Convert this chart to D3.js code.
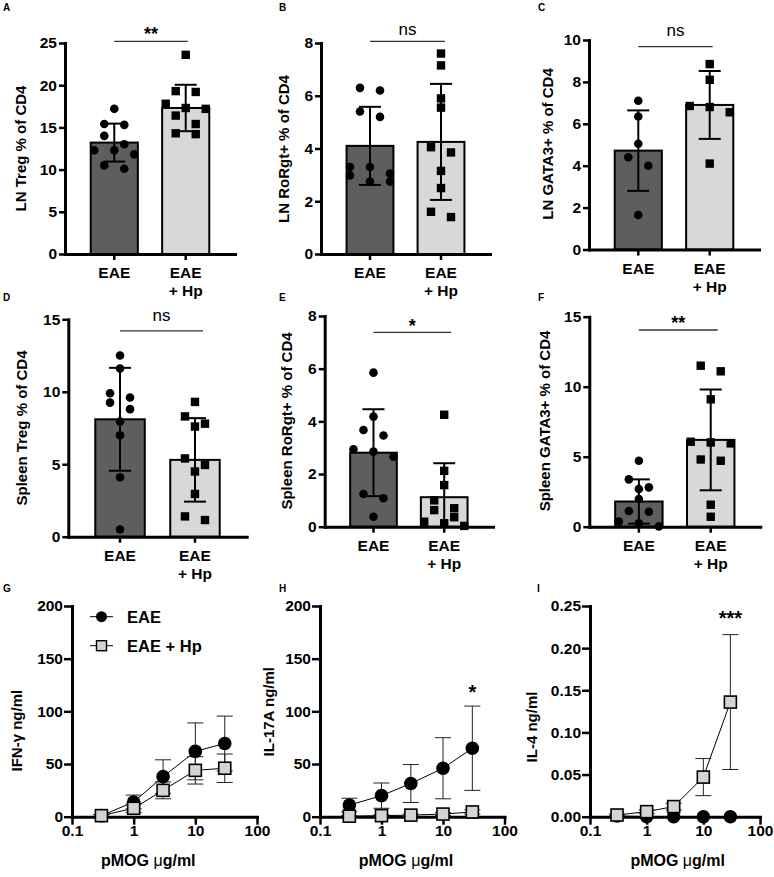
<!DOCTYPE html>
<html><head><meta charset="utf-8">
<script src="https://cdn.jsdelivr.net/npm/d3@7"></script>
<style>
body{margin:0;background:#fff;}
svg{display:block;}
</style></head><body>
<svg id="fig" width="774" height="877"></svg>
<script>
// ---------------- DATA ----------------
const groups = ["EAE", "EAE + Hp"];

// A: LN Treg
const lnTregEAE = [17.2, 15.4, 15.3, 14.0, 13.0, 12.3, 12.3, 11.8, 10.5, 10.1];
const lnTregHp  = [23.6, 19.3, 19.2, 17.8, 17.3, 17.2, 16.4, 15.4, 14.3, 14.2];
const lnTregMean = [13.2, 17.3];
const lnTregSD   = [2.25, 2.75];
// B: LN RoRgt+
const lnRorEAE = [6.3, 6.2, 5.4, 5.2, 3.3, 3.3, 3.05, 2.98, 2.75, 2.75];
const lnRorHp  = [7.6, 7.15, 5.9, 5.55, 4.05, 3.85, 3.15, 2.5, 1.6, 1.4];
const lnRorMean = [4.1, 4.25];
const lnRorSD   = [1.48, 2.2];
// C: LN GATA3+
const lnGataEAE = [7.1, 6.35, 5.05, 4.4, 4.0, 1.65];
const lnGataHp  = [8.85, 8.1, 6.85, 6.8, 6.55, 4.1];
const lnGataMean = [4.72, 6.9];
const lnGataSD   = [1.92, 1.62];
// D: Spleen Treg
const spTregEAE = [12.5, 11.6, 9.9, 9.6, 9.25, 8.8, 7.95, 7.0, 4.1, 0.5];
const spTregHp  = [9.3, 8.3, 7.8, 7.6, 5.4, 4.95, 4.5, 2.95, 1.4, 1.15];
const spTregMean = [8.1, 5.3];
const spTregSD   = [3.55, 2.88];
// E: Spleen RoRgt+
const spRorEAE = [5.85, 4.18, 3.67, 3.46, 2.94, 2.85, 2.66, 1.24, 1.08, 0.38];
const spRorHp  = [4.25, 2.12, 1.58, 1.0, 0.7, 0.63, 0.36, 0.19, 0.13, 0.03];
const spRorMean = [2.81, 1.12];
const spRorSD   = [1.65, 1.29];
// F: Spleen GATA3+
const spGataEAE = [4.71, 3.38, 2.81, 2.69, 1.98, 1.12, 1.07, 0.36, 0.24, 0.02];
const spGataHp  = [11.5, 11.1, 9.1, 6.07, 6.02, 5.95, 4.8, 4.71, 1.57, 0.71];
const spGataMean = [1.8, 6.2];
const spGataSD   = [1.58, 3.6];

const sigLabels = ["**", "ns", "ns", "ns", "*", "**"];

// G-I: cytokines vs pMOG dose
const doses = [0.3, 1, 3, 10, 30];
const doseTicks = [0.1, 1, 10, 100];
const ifngEAE = [1, 14, 38, 62, 69.5];
const ifngEAEsd = [1, 6.5, 16, 27, 26];
const ifngHp = [1, 8, 25, 44, 46];
const ifngHpSd = [1, 4, 8, 13, 13.5];
const il17EAE = [11, 20, 31.5, 46, 65];
const il17EAEsd = [6.5, 12, 18, 29, 40];
const il17Hp = [0.5, 1, 1.5, 2.5, 4.5];
const il17HpSd = [0.5, 0.8, 1, 1.5, 2];
const il4EAE = [0.001, 0, 0, 0, 0];
const il4EAEsd = [0, 0, 0, 0, 0];
const il4Hp = [0.002, 0.006, 0.012, 0.047, 0.136];
const il4HpSd = [0.001, 0.002, 0.004, 0.022, 0.08];
const ifngTicks = [0, 50, 100, 150, 200];
const il17Ticks = [0, 50, 100, 150, 200];
const il4Ticks = [0, 0.05, 0.10, 0.15, 0.20, 0.25];

// ---------------- DRAWING ----------------
const FONT = '"Liberation Sans", Arial, Helvetica, sans-serif';
const svg = d3.select("#fig");
const barFill = ["#5e5e5e", "#d8d8d8"];
const markerFill = "#d4d4d4";

function styleAxis(g, fs) {
  g.select(".domain").attr("stroke", "#000").attr("stroke-width", 3).attr("stroke-linecap", "square");
  g.selectAll(".tick line").attr("stroke", "#000").attr("stroke-width", 2.5);
  g.selectAll(".tick text").attr("font-family", FONT).attr("font-weight", "bold")
    .attr("font-size", fs || 15.5).attr("fill", "#000");
}

function swarm(values, y, spacing, thresh, maxPerRow) {
  const pts = values.map(v => ({ v, y: y(v) })).sort((a, b) => a.y - b.y);
  const rows = [];
  let cur = null;
  for (const p of pts) {
    if (cur && p.y - cur[0].y < thresh && cur.length < maxPerRow) cur.push(p);
    else { cur = [p]; rows.push(cur); }
  }
  rows.forEach(r => r.forEach((p, i) => p.dx = (i - (r.length - 1) / 2) * spacing));
  return pts;
}

function letter(t, x, y) {
  svg.append("text").attr("x", x).attr("y", y).text(t)
    .attr("font-family", FONT).attr("font-weight", "bold").attr("font-size", 10);
}

function rotTitle(t, x, y) {
  svg.append("text").attr("transform", `translate(${x},${y}) rotate(-90)`)
    .attr("text-anchor", "middle").attr("dominant-baseline", "central")
    .attr("font-family", FONT).attr("font-weight", "bold").attr("font-size", 15).text(t);
}

function drawBarPanel(p) {
  const g = svg.append("g");
  const y = d3.scaleLinear().domain([0, p.yMax]).range([p.y0, p.yTop]);
  const x = d3.scaleBand().domain(groups).range([p.axisX, p.xEnd]).paddingInner(0.34).paddingOuter(0.36);
  const bw = x.bandwidth();

  g.selectAll("rect.bar").data(groups).join("rect").attr("class", "bar")
    .attr("x", d => x(d)).attr("width", bw)
    .attr("y", (d, i) => y(p.means[i])).attr("height", (d, i) => p.y0 - y(p.means[i]))
    .attr("fill", (d, i) => barFill[i]).attr("stroke", "#000").attr("stroke-width", 2);

  groups.forEach((grp, i) => {
    const cx = x(grp) + bw / 2;
    const pts = swarm(p.points[i], y, 20, 8.5, 3);
    if (i === 0) {
      g.selectAll(null).data(pts).join("circle")
        .attr("cx", d => cx + d.dx).attr("cy", d => d.y).attr("r", 4.3).attr("fill", "#000");
    } else {
      g.selectAll(null).data(pts).join("rect")
        .attr("x", d => cx + d.dx - 4.2).attr("y", d => d.y - 4.2)
        .attr("width", 8.4).attr("height", 8.4).attr("fill", "#000");
    }
    const hiV = p.means[i] + p.sds[i], loV = p.means[i] - p.sds[i];
    const hi = y(hiV), lo = y(Math.max(0, loV));
    g.append("line").attr("x1", cx).attr("x2", cx).attr("y1", lo).attr("y2", hi)
      .attr("stroke", "#000").attr("stroke-width", 2);
    g.append("line").attr("x1", cx - 11).attr("x2", cx + 11).attr("y1", hi).attr("y2", hi)
      .attr("stroke", "#000").attr("stroke-width", 2);
    if (loV > 0) g.append("line").attr("x1", cx - 11).attr("x2", cx + 11).attr("y1", lo).attr("y2", lo)
      .attr("stroke", "#000").attr("stroke-width", 2);
  });

  const ya = g.append("g").attr("transform", `translate(${p.axisX},0)`)
    .call(d3.axisLeft(y).tickValues(d3.range(0, p.yMax + 1e-9, p.step)).tickSize(6).tickPadding(2).tickSizeOuter(0));
  styleAxis(ya);
  const xa = g.append("g").attr("transform", `translate(0,${p.y0})`)
    .call(d3.axisBottom(x).tickSize(6).tickSizeOuter(0).tickFormat(""));
  styleAxis(xa);

  groups.forEach(grp => {
    const parts = grp.split(/ (?=\+)/);
    parts.forEach((t, k) => {
      g.append("text").attr("x", x(grp) + bw / 2).attr("y", p.y0 + 24 + k * 18)
        .attr("text-anchor", "middle").attr("font-family", FONT).attr("font-weight", "bold")
        .attr("font-size", 15.5).text(t);
    });
  });

  // significance
  const sy = y(p.sigVal);
  const x1 = x(groups[0]) + bw / 2, x2 = x(groups[1]) + bw / 2 + p.sigExt;
  g.append("line").attr("x1", x1).attr("x2", x2).attr("y1", sy).attr("y2", sy)
    .attr("stroke", "#333").attr("stroke-width", 1.3);
  const isStar = p.sig.indexOf("*") >= 0;
  g.append("text").attr("x", (x1 + x2) / 2).attr("y", sy - p.sigDy)
    .attr("text-anchor", "middle").attr("font-family", FONT)
    .attr("font-weight", isStar ? "bold" : "normal").attr("font-size", isStar ? 18 : 17).text(p.sig);

  rotTitle(p.title, p.titleX, p.titleY);
  letter(p.letter, p.lx, p.ly);
}

function drawLinePanel(p) {
  const g = svg.append("g");
  const x = d3.scaleLog().domain([0.1, 100]).range([p.axisX, p.xEnd]);
  const y = d3.scaleLinear().domain([0, p.ticks[p.ticks.length - 1]]).range([p.y0, p.yTop]);

  const ya = g.append("g").attr("transform", `translate(${p.axisX},0)`)
    .call(d3.axisLeft(y).tickValues(p.ticks).tickFormat(p.fmt).tickSize(8).tickPadding(1).tickSizeOuter(0));
  styleAxis(ya);
  const xa = g.append("g").attr("transform", `translate(0,${p.y0})`)
    .call(d3.axisBottom(x).tickValues(doseTicks).tickFormat(d => String(d)).tickSize(8).tickPadding(0).tickSizeOuter(0));
  styleAxis(xa);

  const series = [
    { m: p.eae, sd: p.eaeSd, type: "circle" },
    { m: p.hp, sd: p.hpSd, type: "square" }
  ];
  const line = d3.line().x((d, i) => x(doses[i])).y(d => y(d));
  series.forEach(s => {
    g.append("path").attr("d", line(s.m)).attr("fill", "none").attr("stroke", "#000").attr("stroke-width", 1);
    s.m.forEach((v, i) => {
      if (s.sd[i] <= 0) return;
      const cx = x(doses[i]);
      const hi = y(v + s.sd[i]);
      const loV = v - s.sd[i];
      const lo = y(Math.max(0, loV));
      g.append("line").attr("x1", cx).attr("x2", cx).attr("y1", lo).attr("y2", hi)
        .attr("stroke", "#222").attr("stroke-width", 1);
      g.append("line").attr("x1", cx - 8).attr("x2", cx + 8).attr("y1", hi).attr("y2", hi)
        .attr("stroke", "#222").attr("stroke-width", 1);
      if (loV > 0) g.append("line").attr("x1", cx - 8).attr("x2", cx + 8).attr("y1", lo).attr("y2", lo)
        .attr("stroke", "#222").attr("stroke-width", 1);
    });
  });
  series.forEach(s => {
    if (s.type === "circle") {
      g.selectAll(null).data(s.m).join("circle")
        .attr("cx", (d, i) => x(doses[i])).attr("cy", d => y(d)).attr("r", 6.8).attr("fill", "#000");
    } else {
      g.selectAll(null).data(s.m).join("rect")
        .attr("x", (d, i) => x(doses[i]) - 6).attr("y", d => y(d) - 6)
        .attr("width", 12).attr("height", 12)
        .attr("fill", markerFill).attr("stroke", "#000").attr("stroke-width", 1.6);
    }
  });

  if (p.sig) {
    g.append("text").attr("x", x(doses[doses.length - 1])).attr("y", y(p.sigVal))
      .attr("text-anchor", "middle").attr("font-family", FONT).attr("font-weight", "bold")
      .attr("font-size", 20).text(p.sig);
  }

  rotTitle(p.title, p.titleX, p.titleY);
  const xl = g.append("text").attr("x", p.xlX).attr("y", 866).attr("text-anchor", "middle")
    .attr("font-family", FONT).attr("font-weight", "bold").attr("font-size", 16);
  xl.append("tspan").text("pMOG ");
  xl.append("tspan").attr("font-weight", "normal").text("μ");
  xl.append("tspan").text("g/ml");
  letter(p.letter, p.lx, p.ly);
}

const barPanels = [
  { letter: "A", lx: 3, ly: 11, axisX: 65, xEnd: 235, y0: 254, yTop: 43, yMax: 25, step: 5,
    points: [lnTregEAE, lnTregHp], means: lnTregMean, sds: lnTregSD, sig: sigLabels[0],
    sigVal: 25.2, sigExt: 2, sigDy: 1, title: "LN Treg % of CD4", titleX: 20, titleY: 148.5 },
  { letter: "B", lx: 279, ly: 11, axisX: 321, xEnd: 490, y0: 254, yTop: 43, yMax: 8, step: 2,
    points: [lnRorEAE, lnRorHp], means: lnRorMean, sds: lnRorSD, sig: sigLabels[1],
    sigVal: 8.06, sigExt: 4, sigDy: 6, title: "LN RoRgt+ % of CD4", titleX: 283, titleY: 149 },
  { letter: "C", lx: 538, ly: 11, axisX: 589, xEnd: 759, y0: 249.5, yTop: 40, yMax: 10, step: 2,
    points: [lnGataEAE, lnGataHp], means: lnGataMean, sds: lnGataSD, sig: sigLabels[2],
    sigVal: 9.68, sigExt: 3, sigDy: 11, title: "LN GATA3+ % of CD4", titleX: 547.5, titleY: 144 },
  { letter: "D", lx: 3, ly: 301, axisX: 68.3, xEnd: 246.7, y0: 536.7, yTop: 319.3, yMax: 15, step: 5,
    points: [spTregEAE, spTregHp], means: spTregMean, sds: spTregSD, sig: sigLabels[3],
    sigVal: 14.2, sigExt: 8, sigDy: 10, title: "Spleen Treg % of CD4", titleX: 21.7, titleY: 428 },
  { letter: "E", lx: 279, ly: 301, axisX: 324.7, xEnd: 493, y0: 526.7, yTop: 316, yMax: 8, step: 2,
    points: [spRorEAE, spRorHp], means: spRorMean, sds: spRorSD, sig: sigLabels[4],
    sigVal: 7.38, sigExt: 7, sigDy: 0, title: "Spleen RoRgt+ % of CD4", titleX: 286.3, titleY: 421 },
  { letter: "F", lx: 538, ly: 301, axisX: 589.3, xEnd: 760.3, y0: 526.7, yTop: 316.7, yMax: 15, step: 5,
    points: [spGataEAE, spGataHp], means: spGataMean, sds: spGataSD, sig: sigLabels[5],
    sigVal: 14.05, sigExt: 7, sigDy: 1, title: "Spleen GATA3+ % of CD4", titleX: 544.3, titleY: 421 }
];
barPanels.forEach(drawBarPanel);

const linePanels = [
  { letter: "G", lx: 3, ly: 592, axisX: 72, xEnd: 257, y0: 816.7, yTop: 606, ticks: ifngTicks, fmt: d3.format("d"),
    eae: ifngEAE, eaeSd: ifngEAEsd, hp: ifngHp, hpSd: ifngHpSd, sig: null,
    title: "IFN-γ ng/ml", titleX: 16.7, titleY: 730.7, xlX: 148.3 },
  { letter: "H", lx: 279, ly: 592, axisX: 320, xEnd: 504.5, y0: 816.7, yTop: 606, ticks: il17Ticks, fmt: d3.format("d"),
    eae: il17EAE, eaeSd: il17EAEsd, hp: il17Hp, hpSd: il17HpSd, sig: "*", sigVal: 112,
    title: "IL-17A ng/ml", titleX: 268.5, titleY: 711.7, xlX: 406 },
  { letter: "I", lx: 537, ly: 592, axisX: 590, xEnd: 760, y0: 816.7, yTop: 606, ticks: il4Ticks, fmt: d3.format(".2f"),
    eae: il4EAE, eaeSd: il4EAEsd, hp: il4Hp, hpSd: il4HpSd, sig: "***", sigVal: 0.227,
    title: "IL-4 ng/ml", titleX: 531, titleY: 727, xlX: 677.7 }
];
linePanels.forEach(drawLinePanel);

// legend in G
const lg = svg.append("g");
const legendItems = [groups[0], groups[1]];
legendItems.forEach((t, i) => {
  const cy = 616.7 + i * 29;
  lg.append("line").attr("x1", 90).attr("x2", 113).attr("y1", cy).attr("y2", cy).attr("stroke", "#000").attr("stroke-width", 1);
  if (i === 0) lg.append("circle").attr("cx", 101.5).attr("cy", cy).attr("r", 5.5).attr("fill", "#000");
  else lg.append("rect").attr("x", 96.5).attr("y", cy - 5).attr("width", 10).attr("height", 10)
    .attr("fill", markerFill).attr("stroke", "#000").attr("stroke-width", 1.4);
  lg.append("text").attr("x", 127).attr("y", cy + 6).attr("font-family", FONT).attr("font-weight", "bold")
    .attr("font-size", 16.5).text(t);
});
</script>
</body></html>
